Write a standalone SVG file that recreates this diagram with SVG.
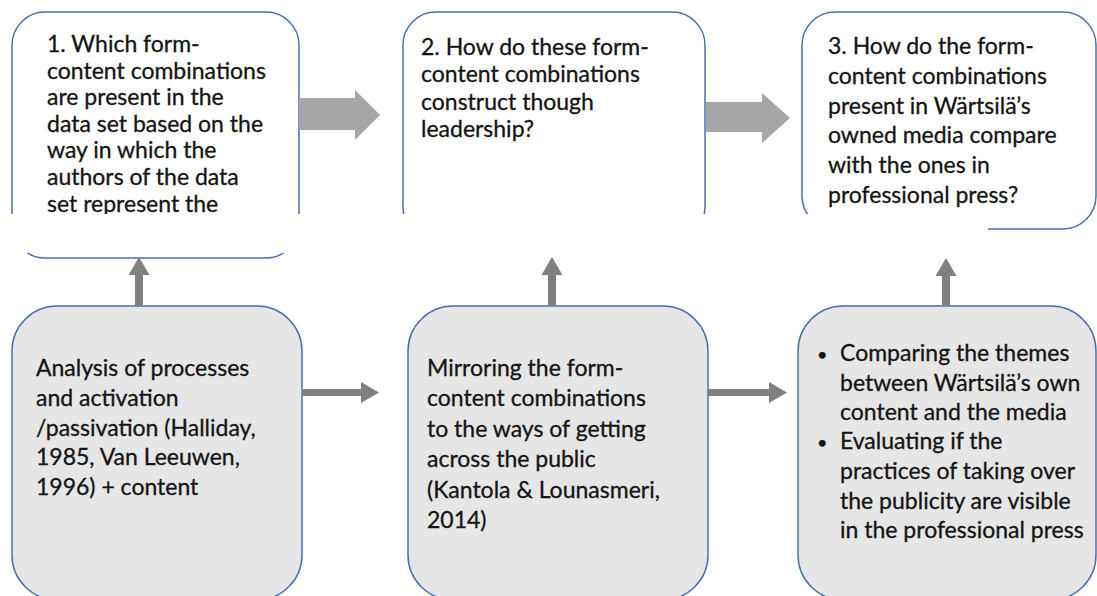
<svg xmlns="http://www.w3.org/2000/svg" width="1097" height="596" viewBox="0 0 1097 596">
  <style>
    .q { fill: #ffffff; stroke: #4a70b0; stroke-width: 1.5; }
    .m { fill: #e6e6e6; stroke: #4a70b0; stroke-width: 1.5; }
    .t { font-family: Lato, "Liberation Sans", sans-serif; font-size: 23px; fill: #141414; stroke: #141414; stroke-width: 0.3; }
    .block { fill: #a6a6a6; }
    .link { stroke: #808080; fill: none; }
  </style>
  <defs>
    <marker id="head" viewBox="0 0 18 21" refX="0" refY="10.5" markerUnits="userSpaceOnUse" markerWidth="18" markerHeight="21" orient="auto">
      <path d="M0,0 L18,10.5 L0,21 z" fill="#808080"/>
    </marker>
  </defs>

  <rect width="1097" height="596" fill="#ffffff"/>

  <!-- research questions -->
  <g id="question1">
    <rect class="q" x="12" y="12" width="287" height="246" rx="33"/>
    <text class="t">
      <tspan x="47" y="52">1. Which form-</tspan>
      <tspan x="47" y="79">content combinations</tspan>
      <tspan x="47" y="105">are present in the</tspan>
      <tspan x="47" y="132">data set based on the</tspan>
      <tspan x="47" y="158">way in which the</tspan>
      <tspan x="47" y="185">authors of the data</tspan>
      <tspan x="47" y="212">set represent the</tspan>
    </text>
  </g>
  <g id="question2">
    <rect class="q" x="403" y="12" width="302" height="228" rx="33"/>
    <text class="t">
      <tspan x="421" y="55">2. How do these form-</tspan>
      <tspan x="421" y="82">content combinations</tspan>
      <tspan x="421" y="110">construct though</tspan>
      <tspan x="421" y="137">leadership?</tspan>
    </text>
  </g>
  <g id="question3">
    <rect class="q" x="802" y="12" width="294" height="217" rx="33"/>
    <text class="t">
      <tspan x="828" y="54">3. How do the form-</tspan>
      <tspan x="828" y="84">content combinations</tspan>
      <tspan x="828" y="114">present in Wärtsilä’s</tspan>
      <tspan x="828" y="143">owned media compare</tspan>
      <tspan x="828" y="173">with the ones in</tspan>
      <tspan x="828" y="203">professional press?</tspan>
    </text>
  </g>

  <!-- blank strip across the lower part of the question row -->
  <rect x="0" y="214" width="988" height="39" fill="#ffffff"/>

  <!-- methods -->
  <g id="method1">
    <rect class="m" x="12" y="306" width="290" height="294" rx="45"/>
    <text class="t">
      <tspan x="36" y="376">Analysis of processes</tspan>
      <tspan x="36" y="406">and activation</tspan>
      <tspan x="36" y="436">/passivation (Halliday,</tspan>
      <tspan x="36" y="465">1985, Van Leeuwen,</tspan>
      <tspan x="36" y="495">1996) + content</tspan>
    </text>
  </g>
  <g id="method2">
    <rect class="m" x="408" y="306" width="300" height="294" rx="45"/>
    <text class="t">
      <tspan x="427" y="376">Mirroring the form-</tspan>
      <tspan x="427" y="406">content combinations</tspan>
      <tspan x="427" y="437">to the ways of getting</tspan>
      <tspan x="427" y="467">across the public</tspan>
      <tspan x="427" y="498">(Kantola &amp; Lounasmeri,</tspan>
      <tspan x="427" y="528">2014)</tspan>
    </text>
  </g>
  <g id="method3">
    <rect class="m" x="798" y="306" width="298" height="294" rx="45"/>
    <text class="t">
      <tspan x="817" y="361" font-size="18">•</tspan>
      <tspan x="840" y="361">Comparing the themes</tspan>
      <tspan x="840" y="391">between Wärtsilä’s own</tspan>
      <tspan x="840" y="420">content and the media</tspan>
      <tspan x="817" y="449" font-size="18">•</tspan>
      <tspan x="840" y="449">Evaluating if the</tspan>
      <tspan x="840" y="479">practices of taking over</tspan>
      <tspan x="840" y="509">the publicity are visible</tspan>
      <tspan x="840" y="538">in the professional press</tspan>
    </text>
  </g>

  <!-- connectors -->
  <g id="connectors">
    <polygon class="block" points="299,98 355,98 355,90 380,115 355,140 355,130 299,130"/>
    <polygon class="block" points="706,102 762,102 762,93 790,118 762,143 762,132 706,132"/>
    <line class="link" x1="139" y1="306" x2="139" y2="275" stroke-width="8" marker-end="url(#head)"/>
    <line class="link" x1="552" y1="306" x2="552" y2="275" stroke-width="8" marker-end="url(#head)"/>
    <line class="link" x1="946" y1="306" x2="946" y2="276" stroke-width="8" marker-end="url(#head)"/>
    <line class="link" x1="302" y1="392.5" x2="361" y2="392.5" stroke-width="7" marker-end="url(#head)"/>
    <line class="link" x1="708" y1="392.5" x2="769" y2="392.5" stroke-width="7" marker-end="url(#head)"/>
  </g>
</svg>
